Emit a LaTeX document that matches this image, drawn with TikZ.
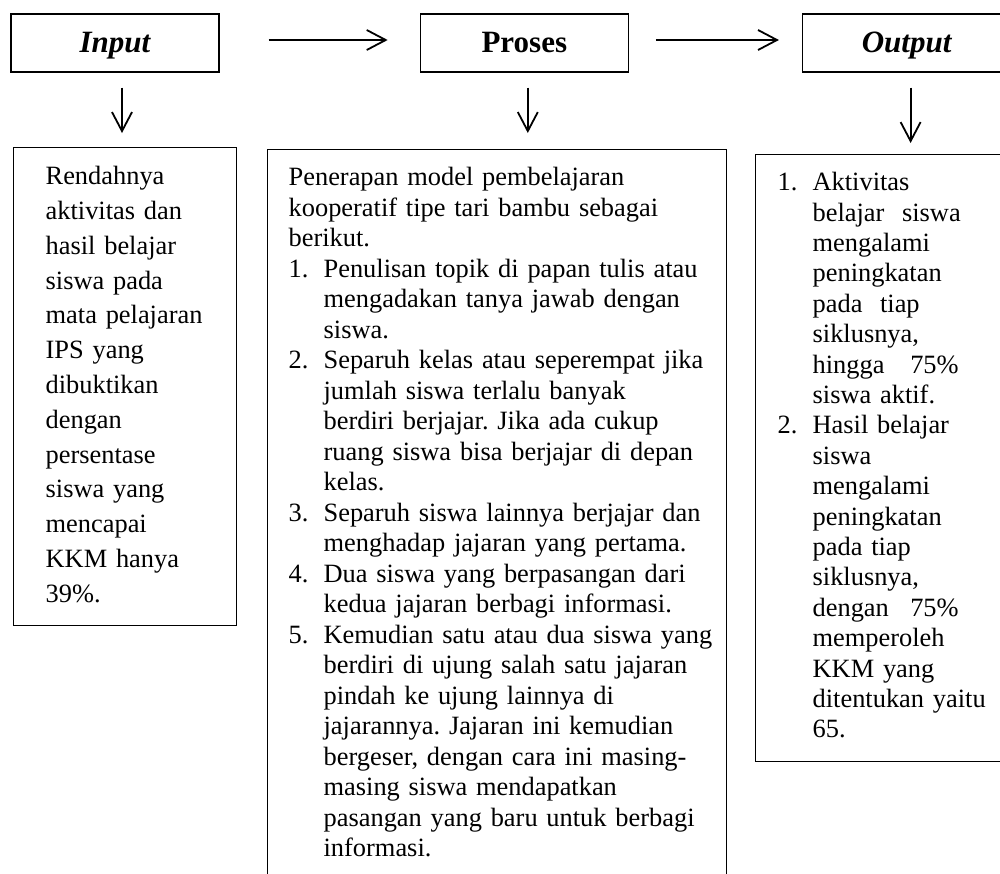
\documentclass[tikz,border=0pt]{standalone}
\usepackage{fontspec}
\setmainfont{Liberation Serif}
\usetikzlibrary{arrows.meta}
\usetikzlibrary{positioning}
\usetikzlibrary{calc}

\newcommand{\numbox}[1]{\makebox[35pt][l]{#1}}
\newcommand{\contline}{\hspace*{35pt}}
\newcommand{\fullline}[2]{\hbox to 146pt{#1\hfill #2}}

\begin{document}
\begin{tikzpicture}[
			x = 1pt, y = -1pt,
			headbox/.style = {
				draw = black, line width = 1.3pt,
				minimum width = 208pt, minimum height = 58pt,
				text height = 24pt, text depth = 5pt,
				inner sep = 0, font = \fontsize{31}{36}\selectfont\bfseries,
			},
			bodybox/.style = {
				draw = black, line width = 1.3pt,
				anchor = north west, align = left,
			},
			flow/.style = {
				line width = 1.8pt, draw = black,
				-{Straight Barb[length = 19pt, width = 20pt]},
			},
		]
		\useasboundingbox (0,0) rectangle (1000,873);

		\node[headbox] (In) at (115,43) {\itshape Input};
		\node[headbox, right = 200pt of In] (Pr) {Proses};
		\node[headbox, right = 173pt of Pr] (Out) {\itshape Output};

		\node[
			bodybox, text width = 159pt,
			inner xsep = 32pt, inner ysep = 12.6pt,
			font = \fontsize{26.4}{34.8}\selectfont\frenchspacing,
		] (InB) at (13,147) {\strut Rendahnya\\
			aktivitas dan\\
			hasil belajar\\
			siswa pada\\
			mata pelajaran\\
			IPS yang\\
			dibuktikan\\
			dengan\\
			persentase\\
			siswa yang\\
			mencapai\\
			KKM hanya\\
			39\%.\strut};

		\node[
			bodybox, text width = 417pt,
			inner xsep = 21pt, inner ysep = 14.65pt,
			font = \fontsize{26.4}{30.5}\selectfont\frenchspacing,
		] (PrB) at (267,149) {\strut Penerapan model pembelajaran\\
			kooperatif tipe tari bambu sebagai\\
			berikut.\\
			\mbox{\numbox{1.}Penulisan topik di papan tulis atau}\\
			\contline mengadakan tanya jawab dengan\\
			\contline siswa.\\
			\mbox{\numbox{2.}Separuh kelas atau seperempat jika}\\
			\contline jumlah siswa terlalu banyak\\
			\contline berdiri berjajar. Jika ada cukup\\
			\contline ruang siswa bisa berjajar di depan\\
			\contline kelas.\\
			\mbox{\numbox{3.}Separuh siswa lainnya berjajar dan}\\
			\contline menghadap jajaran yang pertama.\\
			\numbox{4.}Dua siswa yang berpasangan dari\\
			\contline kedua jajaran berbagi informasi.\\
			\mbox{\numbox{5.}Kemudian satu atau dua siswa yang}\\
			\contline\mbox{berdiri di ujung salah satu jajaran}\\
			\contline pindah ke ujung lainnya di\\
			\contline jajarannya. Jajaran ini kemudian\\
			\contline bergeser, dengan cara ini masing-\\
			\contline masing siswa mendapatkan\\
			\contline\mbox{pasangan yang baru untuk berbagi}\\
			\contline informasi.\strut};

		\node[
			bodybox, text width = 211pt,
			inner xsep = 22pt, inner ysep = 14.7pt,
			font = \fontsize{26.4}{30.4}\selectfont\frenchspacing,
		] (OutB) at (755,154) {\strut\numbox{1.}Aktivitas\\
			\contline belajar\ \ siswa\\
			\contline mengalami\\
			\contline peningkatan\\
			\contline pada\ \ tiap\\
			\contline siklusnya,\\
			\contline\fullline{hingga}{75\%}\\
			\contline siswa aktif.\\
			\numbox{2.}Hasil belajar\\
			\contline siswa\\
			\contline mengalami\\
			\contline peningkatan\\
			\contline pada tiap\\
			\contline siklusnya,\\
			\contline\fullline{dengan}{75\%}\\
			\contline memperoleh\\
			\contline KKM yang\\
			\contline\mbox{ditentukan yaitu}\\
			\contline 65.\strut};

		\draw[flow, shorten <= 49pt, shorten >= 32pt]
			([yshift = 3pt]In.east) -- ([yshift = 3pt]Pr.west);
		\draw[flow, shorten <= 27pt, shorten >= 23pt]
			([yshift = 3pt]Pr.east) -- ([yshift = 3pt]Out.west);

		\draw[flow, shorten <= 15pt, shorten >= 14pt]
			($(In.south)+(7,0)$) -- ($(In.south |- InB.north)+(7,0)$);
		\draw[flow, shorten <= 15pt, shorten >= 16pt]
			($(Pr.south)+(3.5,0)$) -- ($(Pr.south |- PrB.north)+(3.5,0)$);
		\draw[flow, shorten <= 15pt, shorten >= 11pt]
			($(Out.south)+(4,0)$) -- ($(Out.south |- OutB.north)+(4,0)$);

	\end{tikzpicture}
\end{document}
